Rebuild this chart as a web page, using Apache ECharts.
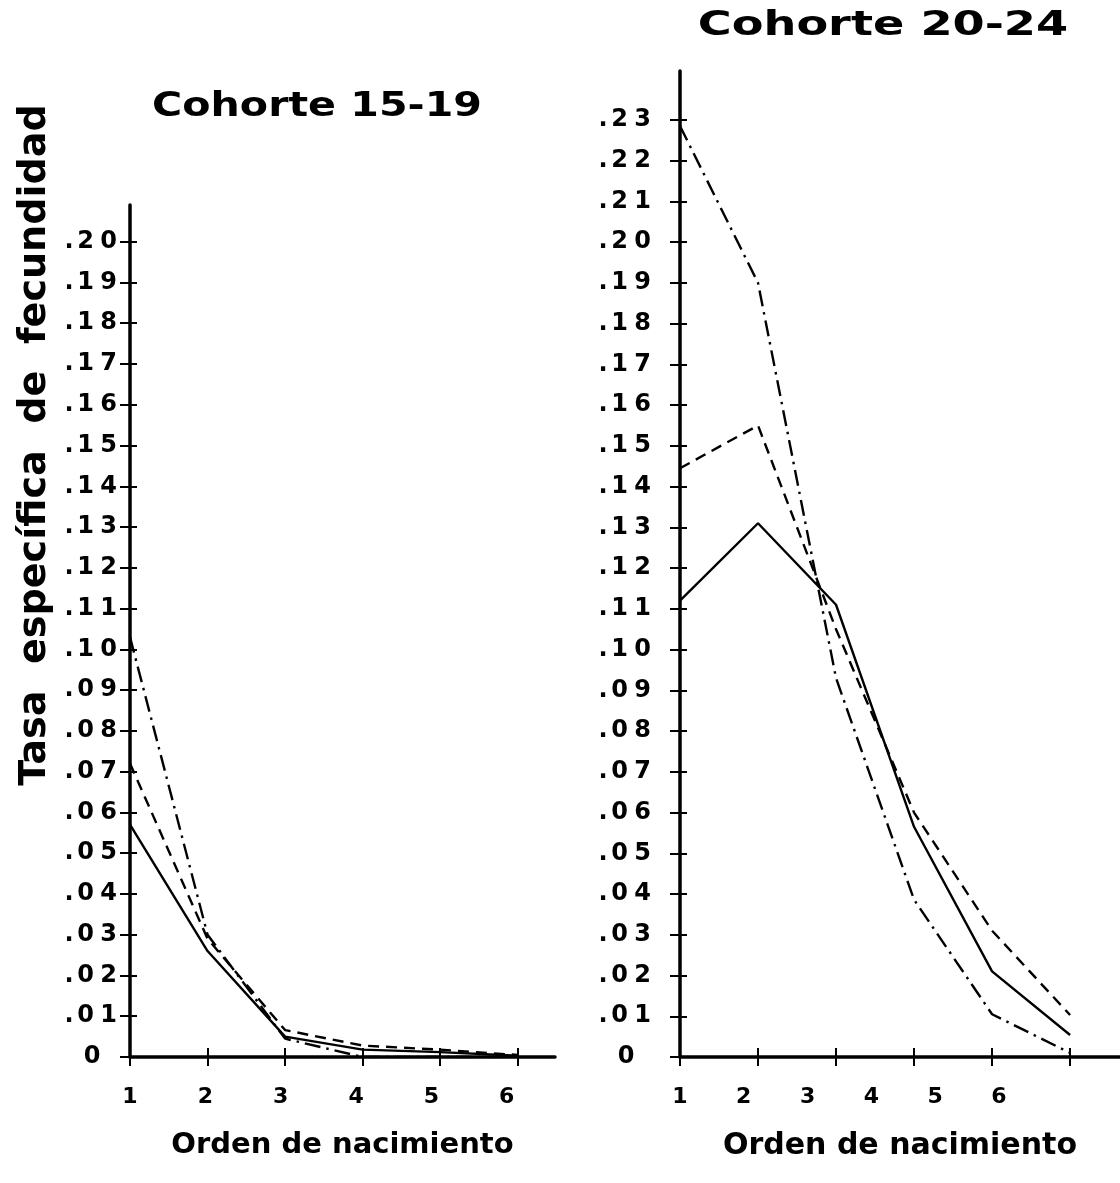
<!DOCTYPE html>
<html>
<head>
<meta charset="utf-8">
<script src="https://cdn.jsdelivr.net/npm/echarts@6.0.0/dist/echarts.min.js"></script>
<style>
html,body{margin:0;padding:0;background:#fff;}
#chart{width:1120px;height:1183px;}
</style>
</head>
<body>
<div id="chart"></div>
<script>
// ---- data ----
const birthOrders = [1, 2, 3, 4, 5, 6];
const birthOrderLabels = ['1', '2', '3', '4', '5', '6'];
const yTicksLeft = [0, 0.01, 0.02, 0.03, 0.04, 0.05, 0.06, 0.07, 0.08, 0.09, 0.10,
                    0.11, 0.12, 0.13, 0.14, 0.15, 0.16, 0.17, 0.18, 0.19, 0.20];
const yTicksRight = [0, 0.01, 0.02, 0.03, 0.04, 0.05, 0.06, 0.07, 0.08, 0.09, 0.10,
                     0.11, 0.12, 0.13, 0.14, 0.15, 0.16, 0.17, 0.18, 0.19, 0.20,
                     0.21, 0.22, 0.23];
// Cohorte 15-19
const c1519Solid   = [0.057, 0.026, 0.005, 0.0018, 0.0012, 0.0003];
const c1519Dashed  = [0.072, 0.029, 0.0066, 0.0028, 0.0018, 0.0005];
const c1519DashDot = [0.103, 0.030, 0.0045, 0.0, 0.0, 0.0];
// Cohorte 20-24
const c2024Solid   = [0.112, 0.131, 0.111, 0.0565, 0.021, 0.0054];
const c2024Dashed  = [0.1445, 0.155, 0.105, 0.060, 0.031, 0.0103];
const c2024DashDot = [0.2285, 0.190, 0.093, 0.0386, 0.0105, 0.001];

const titleLeft = 'Cohorte 15-19';
const titleRight = 'Cohorte 20-24';
const xName = 'Orden de nacimiento';
const yName = 'Tasa  específica  de  fecundidad';

// ---- helpers ----
const FONT = "'DejaVu Sans', sans-serif";
function pairs(vals) { return birthOrders.map((x, i) => [x, vals[i]]); }
function yFmt(v) {
  if (Math.abs(v) < 1e-9) return '{z|0}{e|}';
  const s = v.toFixed(2).slice(1);
  return '{p|.}{d|' + s[1] + '}{d|' + s[2] + '}';
}
const LBL = {fontSize: 24, fontWeight: 'bold', fontFamily: FONT, color: '#000'};
const yRich = {
  p: Object.assign({width: 10, align: 'center'}, LBL),
  d: Object.assign({width: 23, align: 'center'}, LBL),
  z: Object.assign({width: 24, align: 'center'}, LBL),
  e: Object.assign({width: 16}, LBL)
};
const lineBase = {color: '#000', width: 2.4};

function mainX(gridIndex, max, nameSize) {
  return {
    gridIndex, type: 'value', min: 1, max, position: 'bottom',
    axisLine: {show: true, onZero: false, lineStyle: {color: '#000', width: 3.5}},
    axisTick: {show: true, inside: false, length: 9, customValues: birthOrders, lineStyle: {color: '#000', width: 2}},
    axisLabel: {show: false}, splitLine: {show: false},
    name: xName, nameLocation: 'middle', nameGap: 74,
    nameTextStyle: {fontSize: nameSize, fontWeight: 'bold', fontFamily: FONT, color: '#000'}
  };
}
function innerX(gridIndex, max) {
  return {
    gridIndex, type: 'value', min: 1, max, position: 'bottom',
    axisLine: {show: false},
    axisTick: {show: true, inside: true, length: 9, customValues: birthOrders, lineStyle: {color: '#000', width: 2}},
    axisLabel: {show: false}, splitLine: {show: false}
  };
}
function labelX(gridIndex, max) {
  return {
    gridIndex, type: 'value', min: 1, max, position: 'bottom',
    axisLine: {show: false}, axisTick: {show: false}, splitLine: {show: false},
    axisLabel: {show: true, customValues: birthOrders, margin: 29,
      formatter: v => birthOrderLabels[birthOrders.indexOf(v)] || '',
      fontSize: 22, fontWeight: 'bold', fontFamily: FONT, color: '#000'}
  };
}
function mainY(gridIndex, max, ticks, margin) {
  return {
    gridIndex, type: 'value', min: 0, max, position: 'left',
    axisLine: {show: true, onZero: false, lineStyle: {color: '#000', width: 3.5}},
    axisTick: {show: true, inside: false, length: 10, customValues: ticks, lineStyle: {color: '#000', width: 2}},
    axisLabel: Object.assign({show: true, customValues: ticks, margin, formatter: yFmt, rich: yRich}, LBL),
    splitLine: {show: false}
  };
}
function innerY(gridIndex, max, ticks) {
  return {
    gridIndex, type: 'value', min: 0, max, position: 'left',
    axisLine: {show: false},
    axisTick: {show: true, inside: true, length: 7, customValues: ticks, lineStyle: {color: '#000', width: 2}},
    axisLabel: {show: false}, splitLine: {show: false}
  };
}
function ser(name, xi, yi, vals, type) {
  return {
    name, type: 'line', xAxisIndex: xi, yAxisIndex: yi, data: pairs(vals),
    symbol: 'none', silent: true,
    lineStyle: Object.assign({}, lineBase, {type})
  };
}
const DASH = [11, 7];
const DASHDOT = [16, 6, 2.5, 6];

const chart = echarts.init(document.getElementById('chart'), null, {renderer: 'canvas'});
chart.setOption({
  animation: false,
  backgroundColor: '#fff',
  grid: [
    {left: 130, top: 205, width: 425, height: 852},
    {left: 680, top: 71, width: 440, height: 986}
  ],
  xAxis: [
    mainX(0, 6.48, 29), innerX(0, 6.48), labelX(0, 6.64),
    mainX(1, 6.64, 30), innerX(1, 6.64), labelX(1, 7.9)
  ],
  yAxis: [
    mainY(0, 0.209, yTicksLeft, 10), innerY(0, 0.209, yTicksLeft),
    mainY(1, 0.242, yTicksRight, 26), innerY(1, 0.242, yTicksRight)
  ],
  series: [
    ser('15-19 línea continua', 0, 0, c1519Solid, 'solid'),
    ser('15-19 línea discontinua', 0, 0, c1519Dashed, DASH),
    ser('15-19 trazo y punto', 0, 0, c1519DashDot, DASHDOT),
    ser('20-24 línea continua', 3, 2, c2024Solid, 'solid'),
    ser('20-24 línea discontinua', 3, 2, c2024Dashed, DASH),
    ser('20-24 trazo y punto', 3, 2, c2024DashDot, DASHDOT)
  ],
  graphic: [
    {type: 'text', x: 317, y: 107, scaleX: 1.21, silent: true,
      style: {text: titleLeft, font: 'bold 34px ' + FONT, fill: '#000', align: 'center', verticalAlign: 'middle'}},
    {type: 'text', x: 883, y: 26, scaleX: 1.40, silent: true,
      style: {text: titleRight, font: 'bold 33px ' + FONT, fill: '#000', align: 'center', verticalAlign: 'middle'}},
    {type: 'text', x: 35, y: 445, rotation: Math.PI / 2, scaleX: 1.03, silent: true,
      style: {text: yName, font: 'bold 37px ' + FONT, fill: '#000', align: 'center', verticalAlign: 'middle'}}
  ]
});
</script>
</body>
</html>
